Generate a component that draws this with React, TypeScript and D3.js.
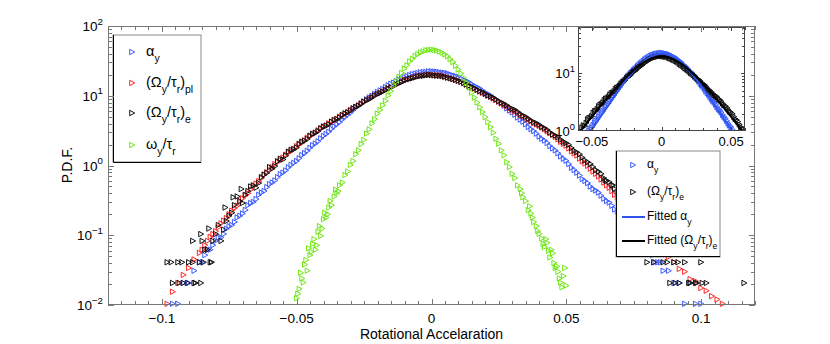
import React, { useEffect, useRef } from 'react';
import * as d3 from 'd3';

// bin centres shared by the three wide PDFs
const mainBins = [
  -0.100, -0.098, -0.096, -0.094, -0.092, -0.090, -0.088, -0.086, -0.084, -0.082,
  -0.080, -0.078, -0.076, -0.074, -0.072, -0.070, -0.068, -0.066, -0.064, -0.062,
  -0.060, -0.058, -0.056, -0.054, -0.052, -0.050, -0.048, -0.046, -0.044, -0.042,
  -0.040, -0.038, -0.036, -0.034, -0.032, -0.030, -0.028, -0.026, -0.024, -0.022,
  -0.020, -0.018, -0.016, -0.014, -0.012, -0.010, -0.008, -0.006, -0.004, -0.002,
  0.000, 0.002, 0.004, 0.006, 0.008, 0.010, 0.012, 0.014, 0.016, 0.018,
  0.020, 0.022, 0.024, 0.026, 0.028, 0.030, 0.032, 0.034, 0.036, 0.038,
  0.040, 0.042, 0.044, 0.046, 0.048, 0.050, 0.052, 0.054, 0.056, 0.058,
  0.060, 0.062, 0.064, 0.066, 0.068, 0.070, 0.072, 0.074, 0.076, 0.078,
  0.080, 0.082, 0.084, 0.086, 0.088, 0.090, 0.092, 0.094, 0.096, 0.098,
  0.100, 0.102, 0.104, 0.106, 0.108, 0.110, 0.112, 0.114, 0.116, 0.118,
  0.120,
];

// alpha_y
const alphaY = [
  null, null, 0.0104, 0.0104, 0.0207, 0.0207, 0.031, 0.041, 0.052, 0.062,
  0.083, 0.093, 0.124, 0.14, 0.18, 0.205, 0.27, 0.30, 0.38, 0.43,
  0.54, 0.61, 0.75, 0.85, 1.02, 1.16, 1.41, 1.62, 1.95, 2.22,
  2.66, 3.05, 3.63, 4.18, 4.96, 5.70, 6.72, 7.68, 8.88, 9.95,
  11.3, 12.5, 14.1, 15.4, 17.1, 18.5, 19.8, 20.8, 21.7, 22.0,
  22.5, 22.1, 21.5, 21.0, 19.6, 18.7, 16.9, 15.6, 13.9, 12.7,
  11.1, 10.1, 8.76, 7.80, 6.60, 5.80, 4.88, 4.25, 3.56, 3.12,
  2.60, 2.28, 1.90, 1.65, 1.35, 1.17, 0.93, 0.79, 0.64, 0.56,
  0.46, 0.41, 0.335, 0.295, 0.235, 0.205, 0.16, 0.135, 0.104, 0.083,
  0.062, 0.052, 0.041, 0.031, 0.031, 0.0207, 0.0207, 0.0104, 0.0207, 0.0104,
  0.0104, null, null, null, null, null, null, null, null, null,
  null,
];

// (Omega_y/tau_r)_pl
const omegaPl = [
  null, 0.0104, 0.0155, 0.0207, 0.027, 0.034, 0.045, 0.056, 0.072, 0.095,
  0.114, 0.148, 0.176, 0.225, 0.265, 0.338, 0.40, 0.505, 0.595, 0.735,
  0.86, 1.05, 1.19, 1.43, 1.60, 1.89, 2.11, 2.49, 2.75, 3.20,
  3.50, 4.02, 4.38, 5.01, 5.45, 6.25, 6.80, 7.78, 8.46, 9.55,
  10.4, 11.6, 12.5, 13.9, 15.0, 16.7, 17.4, 18.6, 19.3, 19.9,
  19.9, 19.7, 19.5, 18.4, 17.6, 16.5, 15.2, 13.9, 12.8, 11.5,
  10.6, 9.6, 8.7, 7.8, 7.05, 6.25, 5.65, 5.05, 4.55, 4.05,
  3.70, 3.32, 2.90, 2.58, 2.19, 1.93, 1.60, 1.39, 1.15, 0.99,
  0.82, 0.70, 0.57, 0.48, 0.38, 0.32, 0.255, 0.215, 0.168, 0.142,
  0.11, 0.095, 0.076, 0.064, 0.049, 0.041, 0.033, 0.030, 0.0235, 0.022,
  0.0175, 0.0160, 0.0134, 0.0120, 0.0104, null, null, null, null, null,
  null,
];

// (Omega_y/tau_r)_e
const omegaE = [
  null, 0.041, 0.0207, 0.041, 0.0207, 0.041, 0.0207, 0.041, 0.062, 0.041,
  0.104, 0.083, 0.16, 0.21, 0.36, 0.29, 0.43, 0.52, 0.56, 0.74,
  0.95, 0.98, 1.25, 1.38, 1.68, 1.80, 2.20, 2.40, 2.85, 3.10,
  3.62, 3.88, 4.50, 4.85, 5.60, 6.10, 6.95, 7.60, 8.60, 9.40,
  10.6, 11.4, 12.7, 13.7, 15.1, 16.3, 17.5, 18.3, 19.2, 19.6,
  19.8, 19.4, 19.1, 18.2, 17.3, 16.4, 15.3, 13.9, 12.9, 11.7,
  10.7, 9.8, 8.9, 8.0, 7.3, 6.5, 5.9, 5.2, 4.7, 4.2,
  3.85, 3.45, 3.00, 2.70, 2.35, 2.10, 1.78, 1.55, 1.30, 1.12,
  0.95, 0.82, 0.66, 0.58, 0.46, 0.40, 0.31, 0.27, 0.21, 0.18,
  0.041, 0.104, 0.083, 0.041, 0.062, 0.041, 0.0207, 0.041, 0.0207, 0.0207,
  0.041, 0.0207, null, null, null, null, null, null, 0.0207, null,
  null,
];

// in-between bin centres for the core of the wide PDFs
const midBins = [
  -0.085, -0.083, -0.081, -0.079, -0.077, -0.075, -0.073, -0.071, -0.069, -0.067,
  -0.065, -0.063, -0.061, -0.059, -0.057, -0.055, -0.053, -0.051, -0.049, -0.047,
  -0.045, -0.043, -0.041, -0.039, -0.037, -0.035, -0.033, -0.031, -0.029, -0.027,
  -0.025, -0.023, -0.021, -0.019, -0.017, -0.015, -0.013, -0.011, -0.009, -0.007,
  -0.005, -0.003, -0.001, 0.001, 0.003, 0.005, 0.007, 0.009, 0.011, 0.013,
  0.015, 0.017, 0.019, 0.021, 0.023, 0.025, 0.027, 0.029, 0.031, 0.033,
  0.035, 0.037, 0.039, 0.041, 0.043, 0.045, 0.047, 0.049, 0.051, 0.053,
  0.055, 0.057, 0.059, 0.061, 0.063, 0.065, 0.067, 0.069, 0.071, 0.073,
  0.075, 0.077, 0.079, 0.081, 0.083, 0.085,
];
const alphaYMid = [
  0.041, 0.062, 0.072, 0.093, 0.104, 0.135, 0.155, 0.19, 0.23, 0.29,
  0.33, 0.41, 0.49, 0.57, 0.68, 0.79, 0.94, 1.09, 1.27, 1.50,
  1.79, 2.06, 2.45, 2.83, 3.35, 3.88, 4.58, 5.30, 6.22, 7.15,
  8.30, 9.45, 10.6, 11.9, 13.3, 14.8, 16.2, 17.9, 19.1, 20.4,
  21.2, 21.9, 22.4, 22.3, 21.8, 21.3, 20.2, 19.2, 17.8, 16.3,
  14.7, 13.3, 11.9, 10.6, 9.4, 8.3, 7.2, 6.15, 5.35, 4.55,
  3.90, 3.32, 2.86, 2.42, 2.10, 1.76, 1.50, 1.25, 1.05, 0.86,
  0.72, 0.60, 0.50, 0.44, 0.37, 0.31, 0.265, 0.22, 0.18, 0.145,
  0.124, 0.093, 0.072, 0.062, 0.041, 0.041,
];
const omegaPlMid = [
  0.062, 0.083, 0.104, 0.13, 0.162, 0.20, 0.245, 0.30, 0.37, 0.45,
  0.55, 0.66, 0.80, 0.95, 1.12, 1.30, 1.52, 1.74, 2.00, 2.29,
  2.62, 2.97, 3.35, 3.75, 4.20, 4.68, 5.23, 5.84, 6.52, 7.27,
  8.11, 8.99, 9.97, 11.0, 12.0, 13.2, 14.4, 15.8, 17.1, 18.0,
  19.0, 19.6, 20.1, 19.8, 19.6, 19.0, 18.0, 17.0, 15.9, 14.5,
  13.4, 12.1, 11.0, 10.1, 9.15, 8.25, 7.42, 6.62, 5.95, 5.35,
  4.80, 4.30, 3.88, 3.50, 3.10, 2.74, 2.38, 2.05, 1.76, 1.49,
  1.26, 1.07, 0.90, 0.76, 0.63, 0.52, 0.43, 0.35, 0.285, 0.235,
  0.19, 0.155, 0.125, 0.102, 0.085, 0.07,
];
const omegaEMid = [
  0.083, 0.062, 0.083, 0.14, 0.12, 0.19, 0.27, 0.31, 0.38, 0.50,
  0.48, 0.68, 0.78, 0.90, 1.15, 1.22, 1.58, 1.70, 2.05, 2.25,
  2.68, 2.92, 3.42, 3.70, 4.25, 4.60, 5.30, 5.75, 6.60, 7.20,
  8.20, 8.90, 10.1, 10.9, 12.1, 13.1, 14.5, 15.6, 17.0, 17.8,
  18.9, 19.3, 19.9, 19.6, 19.3, 18.7, 17.8, 16.9, 15.9, 14.5,
  13.5, 12.2, 11.3, 10.1, 9.4, 8.4, 7.7, 6.8, 6.3, 5.5,
  5.0, 4.4, 4.05, 3.60, 3.25, 2.80, 2.55, 2.18, 1.98, 1.62,
  1.45, 1.18, 1.05, 0.86, 0.76, 0.60, 0.52, 0.42, 0.36, 0.28,
  0.25, 0.19, 0.104, 0.062, 0.083, 0.062,
];

// extra (Omega_y/tau_r)_e tail bins
const omegaEExtra = [
  [-0.0965, 0.041], [-0.0925, 0.041], [-0.0885, 0.041], [-0.0845, 0.041], [-0.0815, 0.041],
  [-0.0935, 0.0207], [-0.0905, 0.0207], [-0.0875, 0.0207], [-0.0855, 0.0207],
  [-0.0885, 0.083], [-0.0855, 0.104], [-0.0825, 0.125], [-0.0765, 0.25], [-0.0735, 0.35], [-0.0705, 0.46],
  [0.0825, 0.041], [0.0875, 0.041], [0.0915, 0.041], [0.0885, 0.0207], [0.0905, 0.0207],
  [0.0955, 0.0207], [0.0985, 0.0207], [0.1005, 0.0207], [0.0645, 0.62], [0.0675, 0.52],
];

const greenBins = [
  -0.050, -0.049, -0.048, -0.047, -0.046, -0.045, -0.044, -0.043, -0.042, -0.041,
  -0.040, -0.039, -0.038, -0.037, -0.036, -0.035, -0.034, -0.033, -0.032, -0.031,
  -0.030, -0.029, -0.028, -0.027, -0.026, -0.025, -0.024, -0.023, -0.022, -0.021,
  -0.020, -0.019, -0.018, -0.017, -0.016, -0.015, -0.014, -0.013, -0.012, -0.011,
  -0.010, -0.009, -0.008, -0.007, -0.006, -0.005, -0.004, -0.003, -0.002, -0.001,
  0.000, 0.001, 0.002, 0.003, 0.004, 0.005, 0.006, 0.007, 0.008, 0.009,
  0.010, 0.011, 0.012, 0.013, 0.014, 0.015, 0.016, 0.017, 0.018, 0.019,
  0.020, 0.021, 0.022, 0.023, 0.024, 0.025, 0.026, 0.027, 0.028, 0.029,
  0.030, 0.031, 0.032, 0.033, 0.034, 0.035, 0.036, 0.037, 0.038, 0.039,
  0.040, 0.041, 0.042, 0.043, 0.044, 0.045, 0.046, 0.047, 0.048, 0.049,
  0.050,
];

// omega_y/tau_r
const omegaTau = [
  0.0125, 0.017, 0.024, 0.038, 0.031, 0.052, 0.075, 0.062, 0.112, 0.098,
  0.17, 0.18, 0.25, 0.27, 0.36, 0.40, 0.52, 0.57, 0.73, 0.82,
  1.02, 1.16, 1.45, 1.65, 2.04, 2.33, 2.87, 3.30, 4.02, 4.62,
  5.55, 6.25, 7.30, 8.45, 10.1, 11.6, 13.9, 15.9, 18.7, 21.2,
  24.6, 27.3, 31.0, 33.8, 37.3, 39.4, 41.8, 43.2, 44.8, 45.3,
  45.8, 45.2, 44.6, 43.0, 41.5, 39.2, 36.8, 33.5, 30.4, 27.0,
  23.8, 20.9, 18.0, 15.4, 13.1, 11.1, 9.40, 8.00, 6.85, 5.85,
  4.95, 4.20, 3.55, 2.95, 2.42, 2.05, 1.65, 1.40, 1.12, 0.95,
  0.76, 0.66, 0.52, 0.46, 0.35, 0.31, 0.23, 0.205, 0.155, 0.135,
  0.105, 0.090, 0.068, 0.078, 0.048, 0.055, 0.034, 0.030, 0.021, 0.026,
  0.019,
];

const omegaTauExtra = [
  [-0.0495, 0.0145], [-0.0485, 0.029], [-0.0475, 0.021], [-0.0465, 0.044], [-0.0455, 0.065],
  [-0.0445, 0.058], [-0.0435, 0.088], [-0.0425, 0.072], [-0.0415, 0.135], [-0.0405, 0.125],
  [-0.0395, 0.21], [-0.0385, 0.20], [-0.0375, 0.31], [-0.0355, 0.45], [-0.0345, 0.43],
  [0.0335, 0.40], [0.0365, 0.26], [0.0375, 0.18], [0.0395, 0.115], [0.0415, 0.075],
  [0.0425, 0.088], [0.0435, 0.060], [0.0445, 0.062], [0.0455, 0.040], [0.0465, 0.036],
  [0.0475, 0.024], [0.0485, 0.018], [0.0495, 0.034],
];

// fitted curves (inset)
const fitBins = [
  -0.060, -0.055, -0.050, -0.045, -0.040, -0.035, -0.030, -0.025, -0.020, -0.015, -0.010, -0.005,
  0.000, 0.005, 0.010, 0.015, 0.020, 0.025, 0.030, 0.035, 0.040, 0.045, 0.050, 0.055, 0.060,
];
const fitAlpha = [
  0.55, 0.76, 1.08, 1.60, 2.40, 3.60, 5.40, 7.80, 10.9, 14.5, 18.0, 20.7,
  21.8, 20.7, 18.0, 14.5, 10.9, 7.80, 5.40, 3.60, 2.40, 1.60, 1.08, 0.76, 0.55,
];
const fitOmegaE = [
  0.88, 1.25, 1.78, 2.5, 3.5, 4.8, 6.5, 8.7, 11.3, 14.2, 16.9, 18.8,
  19.4, 18.8, 16.9, 14.2, 11.3, 8.7, 6.5, 4.8, 3.5, 2.5, 1.78, 1.25, 0.88,
];

const xTickVals = [-0.1, -0.05, 0, 0.05, 0.1];
const xTickText = ['\u22120.1', '\u22120.05', '0', '0.05', '0.1'];
const yDecades = [-2, -1, 0, 1, 2];
const insetXTickVals = [-0.05, 0, 0.05];
const insetXTickText = ['\u22120.05', '0', '0.05'];
const insetDecades = [0, 1];

const BLUE = '#3b5bff';
const RED = '#ff2626';
const BLACK = '#111111';
const GREEN = '#6ee614';
const FONT = '"Liberation Sans", Arial, Helvetica, sans-serif';
const TRI = 'M-2.3,-2.7L2.7,0L-2.3,2.7Z';

const pairs = (bins, vals) => bins.map((b, i) => [b, vals[i]]).filter(d => d[1] != null);

// text with sub/superscripts: parts = [text, 'n' | 's' | 'p']
function rich(g, x, y, parts, size, anchor = 'start') {
  const t = g.append('text').attr('x', x).attr('y', y)
    .attr('font-family', FONT).attr('font-size', size)
    .attr('text-anchor', anchor).attr('fill', '#000');
  let shift = 0;
  parts.forEach(([s, k]) => {
    const target = k === 's' ? size * 0.42 : k === 'p' ? -size * 0.48 : 0;
    t.append('tspan')
      .attr('dy', target - shift)
      .attr('font-size', k === 'n' ? size : size * 0.72)
      .text(s);
    shift = target;
  });
  return t;
}

export default function App() {
  const svgRef = useRef(null);

  useEffect(() => {
    const svg = d3.select(svgRef.current);
    svg.selectAll('*').remove();

    const x = d3.scaleLinear().domain([-0.12, 0.12]).range([108, 755]);
    const y = d3.scaleLog().domain([0.01, 100]).range([305, 26]);

    const defs = svg.append('defs');
    defs.append('clipPath').attr('id', 'mainClip').append('rect')
      .attr('x', 104).attr('y', 22).attr('width', 655).attr('height', 287);
    defs.append('clipPath').attr('id', 'insetClip').append('rect')
      .attr('x', 578).attr('y', 27).attr('width', 167).attr('height', 104);

    const bluePts = pairs(mainBins, alphaY).concat(pairs(midBins, alphaYMid));
    const redPts = pairs(mainBins, omegaPl).concat(pairs(midBins, omegaPlMid));
    const blackPts = pairs(mainBins, omegaE).concat(pairs(midBins, omegaEMid));
    const series = [
      { pts: bluePts, color: BLUE },
      { pts: redPts, color: RED },
      { pts: blackPts.concat(omegaEExtra), color: BLACK },
      { pts: pairs(greenBins, omegaTau).concat(omegaTauExtra), color: GREEN },
    ];

    const dataG = svg.append('g').attr('clip-path', 'url(#mainClip)');
    series.forEach(s => {
      dataG.append('g').selectAll('path').data(s.pts).join('path')
        .attr('d', TRI)
        .attr('transform', d => `translate(${x(d[0])},${y(d[1])})`)
        .attr('fill', 'none').attr('stroke', s.color).attr('stroke-width', 1);
    });

    // main legend
    const leg = svg.append('g');
    leg.append('rect').attr('x', 113).attr('y', 35).attr('width', 88).attr('height', 127)
      .attr('fill', '#fff').attr('stroke', '#888');
    leg.append('path').attr('d', 'M113.5,35V162.5H201').attr('fill', 'none').attr('stroke', '#000');
    const legRows = [
      { yy: 52, color: BLUE, parts: [['\u03b1', 'n'], ['y', 's']] },
      { yy: 83, color: RED, parts: [['(\u03a9', 'n'], ['y', 's'], ['/\u03c4', 'n'], ['r', 's'], [')', 'n'], ['pl', 's']] },
      { yy: 113, color: BLACK, parts: [['(\u03a9', 'n'], ['y', 's'], ['/\u03c4', 'n'], ['r', 's'], [')', 'n'], ['e', 's']] },
      { yy: 145, color: GREEN, parts: [['\u03c9', 'n'], ['y', 's'], ['/\u03c4', 'n'], ['r', 's']] },
    ];
    legRows.forEach(r => {
      leg.append('path').attr('d', TRI).attr('transform', `translate(132,${r.yy})`)
        .attr('fill', 'none').attr('stroke', r.color);
      rich(leg, 146, r.yy + 4, r.parts, 14.5);
    });

    // inset
    const ix = d3.scaleLinear().domain([-0.06, 0.06]).range([578, 745]);
    const iy = d3.scaleLog().domain([1, 63]).range([131, 27]);
    const ins = svg.append('g');
    ins.append('rect').attr('x', 578).attr('y', 27).attr('width', 167).attr('height', 104).attr('fill', '#fff');
    const insData = ins.append('g').attr('clip-path', 'url(#insetClip)');
    [{ pts: bluePts, color: BLUE }, { pts: blackPts, color: BLACK }].forEach(s => {
      insData.append('g').selectAll('path')
        .data(s.pts.filter(d => d[0] >= -0.062 && d[0] <= 0.062 && d[1] >= 0.9))
        .join('path')
        .attr('d', TRI)
        .attr('transform', d => `translate(${ix(d[0])},${iy(d[1])})`)
        .attr('fill', 'none').attr('stroke', s.color).attr('stroke-width', 1);
    });
    const fitLine = d3.line().x(d => ix(d[0])).y(d => iy(d[1])).curve(d3.curveMonotoneX);
    insData.append('path').attr('d', fitLine(pairs(fitBins, fitAlpha)))
      .attr('fill', 'none').attr('stroke', '#2f55ee').attr('stroke-width', 2);
    insData.append('path').attr('d', fitLine(pairs(fitBins, fitOmegaE)))
      .attr('fill', 'none').attr('stroke', '#000').attr('stroke-width', 2);
    ins.append('rect').attr('x', 578.5).attr('y', 27.5).attr('width', 166).attr('height', 103)
      .attr('fill', 'none').attr('stroke', '#444');
    const insTicks = ins.append('g').attr('stroke', '#444').attr('stroke-width', 1);
    d3.range(-0.06, 0.0601, 0.01).forEach(v => {
      const px = Math.round(ix(v)) + 0.5;
      const len = insetXTickVals.some(t => Math.abs(t - v) < 1e-9) ? 4 : 3;
      insTicks.append('line').attr('x1', px).attr('x2', px).attr('y1', 131).attr('y2', 131 - len);
      insTicks.append('line').attr('x1', px).attr('x2', px).attr('y1', 27).attr('y2', 27 + len);
    });
    [2, 3, 4, 5, 6, 7, 8, 9, 10, 20, 30, 40, 50, 60].forEach(v => {
      const py = Math.round(iy(v)) + 0.5;
      const len = v === 10 ? 4 : 3;
      insTicks.append('line').attr('x1', 578).attr('x2', 578 + len).attr('y1', py).attr('y2', py);
      insTicks.append('line').attr('x1', 745).attr('x2', 745 - len).attr('y1', py).attr('y2', py);
    });
    insetXTickVals.forEach((v, i) => {
      ins.append('text').attr('x', ix(v)).attr('y', 146).attr('text-anchor', 'middle')
        .attr('font-family', FONT).attr('font-size', 13).text(insetXTickText[i]);
    });
    insetDecades.forEach(d => {
      rich(ins, 575, iy(Math.pow(10, d)) + 5, [['10', 'n'], [String(d), 'p']], 13, 'end');
    });

    // inset legend
    const il = svg.append('g');
    il.append('rect').attr('x', 616).attr('y', 151).attr('width', 104).attr('height', 106)
      .attr('fill', '#fff').attr('stroke', '#888');
    il.append('path').attr('d', 'M616.5,151V256.5H720').attr('fill', 'none').attr('stroke', '#000');
    il.append('path').attr('d', TRI).attr('transform', 'translate(633,165)').attr('fill', 'none').attr('stroke', BLUE);
    rich(il, 647, 168, [['\u03b1', 'n'], ['y', 's']], 12);
    il.append('path').attr('d', TRI).attr('transform', 'translate(633,192)').attr('fill', 'none').attr('stroke', BLACK);
    rich(il, 647, 195, [['(\u03a9', 'n'], ['y', 's'], ['/\u03c4', 'n'], ['r', 's'], [')', 'n'], ['e', 's']], 12);
    il.append('line').attr('x1', 622).attr('x2', 645).attr('y1', 217).attr('y2', 217).attr('stroke', '#2f55ee').attr('stroke-width', 2);
    rich(il, 647, 220, [['Fitted \u03b1', 'n'], ['y', 's']], 12);
    il.append('line').attr('x1', 622).attr('x2', 645).attr('y1', 241).attr('y2', 241).attr('stroke', '#000').attr('stroke-width', 2);
    rich(il, 647, 244, [['Fitted (\u03a9', 'n'], ['y', 's'], ['/\u03c4', 'n'], ['r', 's'], [')', 'n'], ['e', 's']], 12);

    // main axes frame and ticks
    const ax = svg.append('g');
    ax.append('rect').attr('x', 108.5).attr('y', 26.5).attr('width', 646).attr('height', 278)
      .attr('fill', 'none').attr('stroke', '#777');
    const tk = ax.append('g').attr('stroke', '#777').attr('stroke-width', 1);
    d3.range(-0.12, 0.1201, 0.005).forEach(v => {
      const px = Math.round(x(v)) + 0.5;
      const major = xTickVals.some(t => Math.abs(t - v) < 1e-9);
      const len = major ? 6 : 4;
      tk.append('line').attr('x1', px).attr('x2', px).attr('y1', 305).attr('y2', 305 - len);
      tk.append('line').attr('x1', px).attr('x2', px).attr('y1', 26).attr('y2', 26 + len);
    });
    yDecades.forEach(d => {
      const py = Math.round(y(Math.pow(10, d))) + 0.5;
      tk.append('line').attr('x1', 108).attr('x2', 114).attr('y1', py).attr('y2', py);
      tk.append('line').attr('x1', 755).attr('x2', 749).attr('y1', py).attr('y2', py);
      if (d < 2) {
        [2, 3, 4, 5, 6, 7, 8, 9].forEach(m => {
          const pm = Math.round(y(m * Math.pow(10, d))) + 0.5;
          tk.append('line').attr('x1', 108).attr('x2', 112).attr('y1', pm).attr('y2', pm);
          tk.append('line').attr('x1', 755).attr('x2', 751).attr('y1', pm).attr('y2', pm);
        });
      }
    });
    xTickVals.forEach((v, i) => {
      ax.append('text').attr('x', x(v)).attr('y', 323).attr('text-anchor', 'middle')
        .attr('font-family', FONT).attr('font-size', 13.5).text(xTickText[i]);
    });
    yDecades.forEach(d => {
      const lab = d < 0 ? '\u2212' + Math.abs(d) : String(d);
      rich(ax, 103, y(Math.pow(10, d)) + 5, [['10', 'n'], [lab, 'p']], 13.5, 'end');
    });
    ax.append('text').attr('x', 431.5).attr('y', 339).attr('text-anchor', 'middle')
      .attr('font-family', FONT).attr('font-size', 14).text('Rotational Accelaration');
    ax.append('text').attr('transform', 'translate(72,165) rotate(-90)').attr('text-anchor', 'middle')
      .attr('font-family', FONT).attr('font-size', 14).text('P.D.F.');
  }, []);

  return (
    <div style={{ width: 830, height: 344, margin: '-8px 0 0 -8px', background: '#fff' }}>
      <svg ref={svgRef} width={830} height={344}></svg>
    </div>
  );
}
